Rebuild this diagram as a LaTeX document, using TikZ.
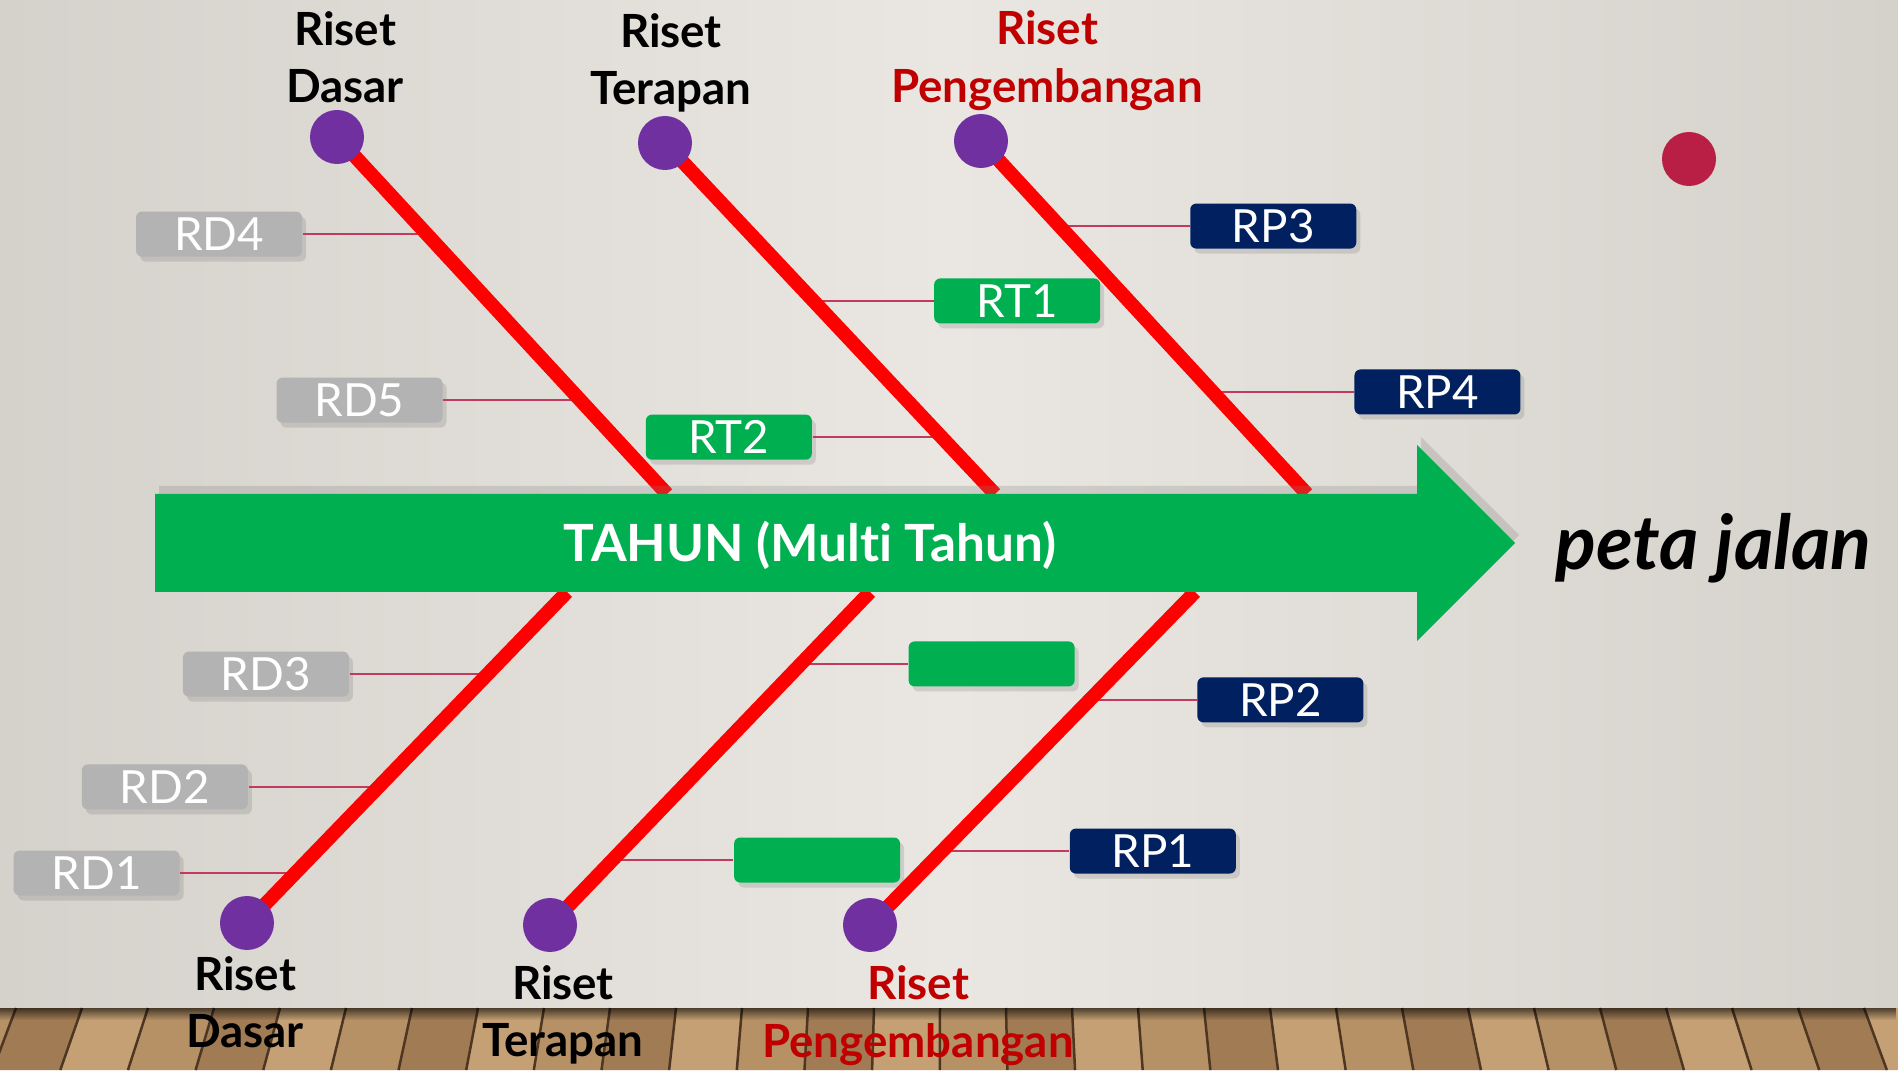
\documentclass[tikz,border=0pt]{standalone}
\usepackage{fontspec}
\setmainfont{Lato}[Ligatures=CommonOff]
\usetikzlibrary{positioning,shadows,fadings}

\definecolor{wallmid}{RGB}{234,231,226}
\definecolor{wallside}{RGB}{213,209,203}
\definecolor{hijau}{RGB}{0,176,80}
\definecolor{biru}{RGB}{0,32,96}
\definecolor{abu}{RGB}{179,179,179}
\definecolor{ungu}{RGB}{112,48,160}
\definecolor{merah}{RGB}{192,0,0}
\definecolor{tulang}{RGB}{255,0,0}
\definecolor{garis}{RGB}{196,58,92}
\definecolor{titik}{RGB}{185,30,68}
\definecolor{kayu0}{RGB}{182,145,102}
\definecolor{kayu1}{RGB}{160,123,84}
\definecolor{kayu2}{RGB}{196,160,116}
\definecolor{celah}{RGB}{78,55,34}

\tikzset{
  knob/.style={circle,fill=ungu,inner sep=0pt,minimum size=0.54cm},
  bone/.style={draw=tulang,line width=1.4mm},
  stubline/.style={draw=garis,line width=0.25mm},
  tagbox/.style={rounded corners=0.6mm,minimum width=1.66cm,minimum height=0.45cm,inner sep=0pt,
    text=white,font=\fontsize{13}{13}\selectfont,
    drop shadow={shadow xshift=0.4mm,shadow yshift=-0.5mm,opacity=0.25}},
  rdbox/.style={tagbox,fill=abu},
  rtbox/.style={tagbox,fill=hijau},
  rpbox/.style={tagbox,fill=biru},
  judul/.style={anchor=south,align=center,inner sep=0pt,font=\bfseries\fontsize{13}{16.4}\selectfont},
}

\begin{document}
\begin{tikzpicture}
            \useasboundingbox (0,0) rectangle (18.98,10.70);
            \clip (0,0) rectangle (18.98,10.70);

            % dinding dan lantai kayu
            \shade[left color=wallside,right color=wallside,middle color=wallmid] (0,0.62) rectangle (18.98,10.70);
            \foreach \i in {0,...,30} {
                \pgfmathsetmacro\xa{\i*0.66-0.5}
                \pgfmathsetmacro\xb{\xa+0.66}
                \pgfmathtruncatemacro\nada{mod(\i*7,3)}
                \fill[kayu\nada] (\xa,0.62) -- (\xb,0.62) -- ({9.5+(\xb-9.5)*1.025},0) -- ({9.5+(\xa-9.5)*1.025},0) -- cycle;
                \draw[celah,line width=0.25mm] (\xa,0.62) -- ({9.5+(\xa-9.5)*1.025},0);
            }
            \fill[black,path fading=south,opacity=0.6] (0,0.50) rectangle (18.98,0.62);

            % pangkal tulang
            \coordinate (p1) at (3.37,9.33);
            \coordinate (p2) at (6.65,9.27);
            \coordinate (p3) at (9.81,9.29);
            \coordinate (p4) at (2.47,1.47);
            \coordinate (p5) at (5.50,1.45);
            \coordinate (p6) at (8.70,1.45);
            \coordinate (b1) at (6.67,5.76);
            \coordinate (b2) at (9.95,5.76);
            \coordinate (b3) at (13.07,5.76);
            \coordinate (b4) at (5.67,4.78);
            \coordinate (b5) at (8.70,4.78);
            \coordinate (b6) at (11.95,4.78);

            \path (p1) -- (b1) coordinate[pos=0.272] (k1) coordinate[pos=0.737] (k2);
            \path (p2) -- (b2) coordinate[pos=0.450] (k3) coordinate[pos=0.838] (k4);
            \path (p3) -- (b3) coordinate[pos=0.241] (k5) coordinate[pos=0.711] (k6);
            \path (b4) -- (p4) coordinate[pos=0.248] (k7) coordinate[pos=0.589] (k8) coordinate[pos=0.849] (k9);
            \path (b5) -- (p5) coordinate[pos=0.216] (k10) coordinate[pos=0.805] (k11);
            \path (b6) -- (p6) coordinate[pos=0.324] (k12) coordinate[pos=0.778] (k13);

            % kotak
            \node (rd4) [rdbox,left=1.24cm of k1] {RD4};
            \node (rd5) [rdbox,left=1.37cm of k2] {RD5};
            \node (rt1) [rtbox,right=1.20cm of k3] {RT1};
            \node (rt2) [rtbox,left=1.29cm of k4] {RT2};
            \node (rp3) [rpbox,right=1.30cm of k5] {RP3};
            \node (rp4) [rpbox,right=1.41cm of k6] {RP4};
            \node (rd3) [rdbox,left=1.38cm of k7] {RD3};
            \node (rd2) [rdbox,left=1.30cm of k8] {RD2};
            \node (rd1) [rdbox,left=1.15cm of k9] {RD1};
            \node (rtx1) [rtbox,right=1.07cm of k10] {};
            \node (rtx2) [rtbox,right=1.21cm of k11] {};
            \node (rp2) [rpbox,right=1.07cm of k12] {RP2};
            \node (rp1) [rpbox,right=1.27cm of k13] {RP1};

            \draw[stubline] (rd4) -- (k1) (rd5) -- (k2) (rt1) -- (k3) (rt2) -- (k4)
                (rp3) -- (k5) (rp4) -- (k6) (rd3) -- (k7) (rd2) -- (k8) (rd1) -- (k9)
                (rtx1) -- (k10) (rtx2) -- (k11) (rp2) -- (k12) (rp1) -- (k13);

            \draw[bone] (p1) -- (b1) (p2) -- (b2) (p3) -- (b3) (p4) -- (b4) (p5) -- (b5) (p6) -- (b6);

            % panah tahun
            \fill[hijau,drop shadow={shadow xshift=0.4mm,shadow yshift=0.8mm,opacity=0.25}]
                (1.55,5.76) -- (14.17,5.76) -- (14.17,6.25) -- (15.15,5.27) -- (14.17,4.29) -- (14.17,4.78) -- (1.55,4.78) -- cycle;
            \node (tahun) at (8.10,5.08) [anchor=base,inner sep=0pt,text=white,font=\bfseries\fontsize{14.6}{14.6}\selectfont] {TAHUN (Multi Tahun)};
            \node (peta) at (15.55,5.00) [anchor=base west,inner sep=0pt,font=\bfseries\itshape\fontsize{21.5}{21.5}\selectfont] {peta jalan};

            \node (d1) at (p1) [knob] {};
            \node (d2) at (p2) [knob] {};
            \node (d3) at (p3) [knob] {};
            \node (d4) at (p4) [knob] {};
            \node (d5) at (p5) [knob] {};
            \node (d6) at (p6) [knob] {};
            \node (hiasan) at (16.89,9.11) [knob,fill=titik] {};

            % judul
            \node (l1) at (3.45,9.66) [judul] {Riset\\Dasar};
            \node (l2) at (6.71,9.57) [judul] {Riset\\Terapan};
            \node (l3) at (10.47,9.59) [judul,text=merah] {Riset\\Pengembangan};
            \node (l4) at (2.45,0.21) [judul] {Riset\\Dasar};
            \node (l5) at (5.63,0.05) [judul] {Riset\\Terapan};
            \node (l6) at (9.18,0.04) [judul,text=merah] {Riset\\Pengembangan};
        \end{tikzpicture}
\end{document}
